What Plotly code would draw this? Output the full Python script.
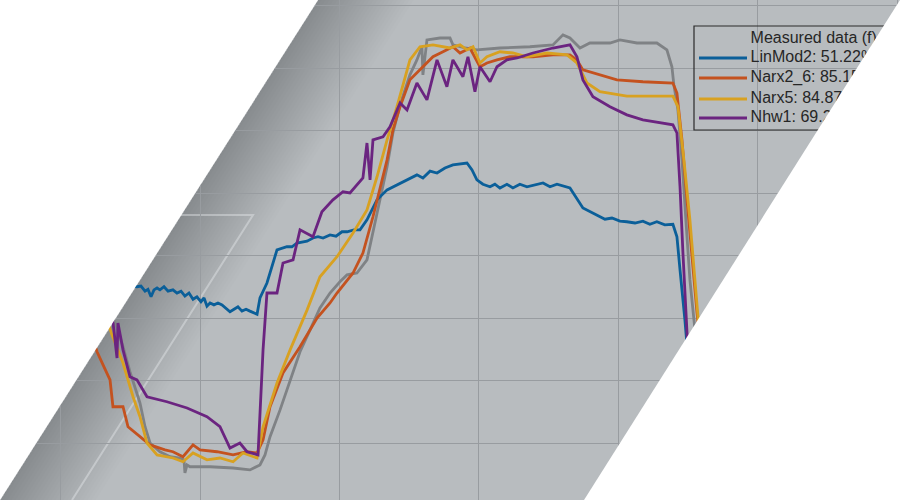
import plotly.graph_objects as go

# ---- data (time in s, output value) ----
meas_t = [3.55, 4.12, 4.48, 4.98, 5.70, 6.06, 6.42, 7.13, 7.85, 8.57, 8.85, 8.92, 9.07, 9.28, 10.72, 12.37, 13.58, 14.30, 14.66, 15.02, 15.74, 16.46, 17.17, 17.89, 18.60, 19.32, 20.03, 20.54, 21.25, 21.97, 22.40, 22.90, 23.41, 23.83, 24.34, 25.05, 25.55, 25.91, 25.98, 26.27, 27.20, 27.92, 28.13, 29.00, 29.85, 31.50, 33.65, 35.30, 36.02, 36.52, 37.24, 37.95, 38.67, 39.39, 40.10, 41.32, 42.75, 43.47, 43.83, 43.97, 44.26, 44.55, 44.83, 45.12, 45.41, 45.84]
meas_y = [2.13, 1.81, 1.54, 1.14, 0.64, 0.26, 0.00, -0.14, -0.22, -0.24, -0.27, -0.48, -0.35, -0.38, -0.38, -0.40, -0.43, -0.35, -0.19, 0.10, 0.53, 1.01, 1.46, 1.81, 2.16, 2.40, 2.58, 2.69, 2.72, 2.93, 3.36, 3.89, 4.42, 4.96, 5.41, 5.89, 6.13, 6.34, 5.89, 6.45, 6.48, 6.48, 6.37, 6.32, 6.29, 6.32, 6.34, 6.37, 6.53, 6.48, 6.32, 6.40, 6.40, 6.40, 6.45, 6.40, 6.40, 6.29, 6.02, 5.73, 5.33, 4.53, 3.57, 2.61, 1.97, 1.01]

lin_t = [4.62, 5.48, 5.77, 6.06, 6.27, 6.49, 6.70, 6.92, 7.13, 7.42, 7.71, 8.06, 8.35, 8.64, 8.92, 9.21, 9.50, 9.78, 10.07, 10.29, 10.50, 10.72, 11.00, 11.29, 11.58, 11.86, 12.15, 12.44, 12.72, 13.01, 13.30, 13.58, 13.87, 14.09, 14.30, 14.80, 15.52, 15.88, 16.23, 16.59, 16.95, 17.67, 18.10, 18.46, 18.82, 19.32, 19.75, 20.18, 20.54, 21.04, 21.47, 21.97, 22.69, 23.41, 24.55, 25.05, 25.55, 25.98, 26.49, 26.99, 27.56, 28.13, 28.64, 29.14, 29.50, 29.85, 30.28, 30.79, 31.14, 31.50, 32.00, 32.43, 32.93, 33.44, 34.59, 35.09, 35.59, 36.02, 36.52, 37.45, 37.95, 38.46, 39.03, 39.53, 40.10, 40.60, 41.18, 41.75, 42.25, 42.75, 43.32, 43.90, 44.19, 44.41, 44.76, 45.12]
lin_y = [2.53, 2.50, 2.51, 2.43, 2.46, 2.34, 2.45, 2.48, 2.45, 2.50, 2.43, 2.45, 2.40, 2.43, 2.35, 2.40, 2.30, 2.34, 2.26, 2.32, 2.19, 2.24, 2.21, 2.24, 2.21, 2.16, 2.10, 2.14, 2.18, 2.11, 2.14, 2.11, 2.08, 2.06, 2.32, 2.56, 3.09, 3.12, 3.14, 3.14, 3.20, 3.23, 3.28, 3.30, 3.28, 3.33, 3.31, 3.38, 3.38, 3.41, 3.41, 3.57, 3.89, 4.05, 4.18, 4.24, 4.29, 4.24, 4.35, 4.32, 4.40, 4.45, 4.46, 4.48, 4.37, 4.21, 4.14, 4.10, 4.14, 4.08, 4.14, 4.08, 4.14, 4.10, 4.16, 4.10, 4.14, 4.11, 4.08, 3.76, 3.70, 3.65, 3.58, 3.60, 3.55, 3.54, 3.52, 3.55, 3.50, 3.54, 3.49, 3.50, 3.30, 2.77, 1.97, 1.01]

narx26_t = [2.11, 2.62, 3.05, 3.55, 3.76, 4.48, 4.84, 5.70, 6.42, 7.49, 8.06, 8.78, 9.50, 10.00, 11.22, 12.37, 13.37, 14.09, 14.52, 15.02, 15.95, 17.17, 18.39, 19.32, 19.82, 20.97, 21.68, 22.40, 22.90, 23.41, 23.83, 24.34, 25.05, 25.77, 26.70, 27.42, 28.13, 28.64, 29.35, 30.07, 30.57, 31.29, 32.22, 33.87, 35.30, 36.52, 37.02, 37.45, 38.17, 39.89, 41.75, 43.90, 44.19, 44.55, 44.91, 45.27, 45.63, 46.05]
narx26_y = [1.81, 1.46, 1.25, 1.01, 0.58, 0.58, 0.26, 0.10, -0.03, -0.11, -0.14, -0.22, -0.03, -0.11, -0.14, -0.19, -0.14, -0.16, 0.05, 0.58, 1.12, 1.54, 2.00, 2.24, 2.40, 2.72, 3.04, 3.62, 4.05, 4.53, 5.01, 5.38, 5.81, 5.97, 6.18, 6.26, 6.34, 6.24, 6.32, 6.02, 6.08, 6.13, 6.18, 6.18, 6.21, 6.21, 6.13, 5.97, 5.92, 5.81, 5.78, 5.76, 5.60, 4.85, 3.89, 2.93, 2.08, 1.17]

narx5_t = [2.83, 3.69, 4.48, 5.20, 5.70, 6.20, 6.92, 8.06, 8.78, 9.50, 10.50, 11.43, 12.37, 13.08, 14.09, 14.52, 15.52, 16.46, 17.68, 18.60, 19.82, 20.97, 21.97, 22.69, 23.41, 24.12, 25.05, 25.77, 26.70, 27.92, 28.64, 29.14, 29.57, 30.07, 30.57, 31.50, 32.43, 33.44, 34.87, 36.31, 37.02, 37.74, 38.67, 40.60, 43.90, 44.26, 44.69, 45.12, 45.70, 46.13]
narx5_y = [2.29, 1.73, 1.28, 0.74, 0.42, 0.00, -0.19, -0.24, -0.30, -0.16, -0.27, -0.24, -0.30, -0.16, -0.24, 0.26, 0.96, 1.49, 2.13, 2.66, 2.98, 3.36, 3.73, 4.26, 4.85, 5.38, 6.13, 6.34, 6.37, 6.32, 6.37, 6.29, 6.34, 6.08, 6.18, 6.26, 6.24, 6.18, 6.24, 6.21, 6.08, 5.76, 5.62, 5.55, 5.55, 5.38, 4.53, 3.57, 2.02, 1.17]

nhw1_t = [3.41, 3.77, 4.05, 4.12, 4.48, 4.98, 5.48, 6.20, 7.63, 9.07, 10.50, 11.43, 12.15, 12.86, 13.37, 14.16, 14.52, 14.80, 15.52, 15.95, 16.67, 17.17, 18.10, 18.74, 19.53, 20.25, 20.75, 21.25, 21.68, 21.97, 22.19, 22.40, 23.12, 23.62, 24.34, 24.84, 25.55, 26.27, 26.99, 27.70, 28.13, 28.85, 29.21, 29.71, 30.07, 30.79, 31.29, 32.00, 32.72, 33.87, 35.30, 36.52, 37.02, 37.45, 38.17, 39.39, 40.60, 41.75, 42.97, 43.90, 44.19, 44.41, 44.62, 44.91, 45.12]
nhw1_y = [2.13, 1.92, 1.36, 1.92, 1.49, 1.06, 1.01, 0.74, 0.66, 0.56, 0.42, 0.26, -0.08, 0.00, -0.14, -0.19, 1.49, 2.40, 2.40, 2.88, 2.93, 3.41, 3.30, 3.70, 3.89, 4.02, 4.00, 4.13, 4.24, 4.80, 4.21, 4.85, 4.90, 5.06, 5.44, 5.33, 5.76, 5.49, 6.13, 5.70, 6.13, 5.86, 6.18, 5.62, 6.02, 5.78, 6.02, 6.13, 6.16, 6.24, 6.32, 6.37, 6.18, 5.81, 5.54, 5.38, 5.25, 5.17, 5.12, 5.09, 4.96, 4.10, 3.04, 1.70, 0.85]

legend_title = "Measured data (f) (y1)"
legend_names = ["LinMod2: 51.22%", "Narx2_6: 85.15%", "Narx5: 84.87%", "Nhw1: 69.23%"]

# ---- style ----
BG = "#b8bcbf"
GRID = "#989ca0"
C_MEAS = "#7f8285"
COLORS = ["#0b5f99", "#c4521f", "#d8a121", "#6b2480"]

fig = go.Figure()

fig.add_trace(go.Scatter(x=meas_t, y=meas_y, mode="lines", name="Measured data (f)",
                         line=dict(color=C_MEAS, width=2.8), showlegend=False))
series = [(lin_t, lin_y), (narx26_t, narx26_y), (narx5_t, narx5_y), (nhw1_t, nhw1_y)]
for (t, y), c, n in zip(series, COLORS, legend_names):
    fig.add_trace(go.Scatter(x=t, y=y, mode="lines", name=n,
                             line=dict(color=c, width=2.8), showlegend=False))

# legend text drawn as real text on an overlay axis in figure fractions
leg_x = 0.834
leg_rows = [0.922, 0.884, 0.844, 0.802, 0.764]
fig.add_trace(go.Scatter(x=[leg_x] * 5, y=leg_rows, mode="text",
                         text=[legend_title] + legend_names, textposition="middle right",
                         textfont=dict(family="Liberation Sans, Arial", size=16, color="#262626"),
                         xaxis="x2", yaxis="y2", showlegend=False, hoverinfo="skip"))

W, H = 900.0, 500.0
def P(px, py):
    return f"{px / W:.4f},{1 - py / H:.4f}"

shapes = []
# darker band along the left slanted edge (soft gradient)
for w in range(4, 100, 4):
    shapes.append(dict(type="path", xref="paper", yref="paper", layer="below", line=dict(width=0),
                       fillcolor="rgba(40,45,50,0.009)",
                       path=f"M {P(318,0)} L {P(318+w,0)} L {P(0+w,500)} L {P(0,500)} Z"))
# faint light outline in lower left
shapes.append(dict(type="path", xref="paper", yref="paper", layer="below",
                   line=dict(color="rgba(235,238,240,0.4)", width=2),
                   path=f"M {P(181,215)} L {P(253,215)} L {P(72,500)}"))
# legend box background (hides gridlines) and border
shapes.append(dict(type="rect", xref="paper", yref="paper", layer="between",
                   x0=694/W, x1=1.05, y0=1-130/H, y1=1-26/H, fillcolor=BG, line=dict(width=0)))
shapes.append(dict(type="rect", xref="paper", yref="paper", layer="above",
                   x0=694/W, x1=1.05, y0=1-130/H, y1=1-26/H, line=dict(color="#2a2a2a", width=1.2)))
for r, c in zip(leg_rows[1:], COLORS):
    shapes.append(dict(type="line", xref="paper", yref="paper", layer="above",
                       x0=699/W, x1=747/W, y0=r, y1=r, line=dict(color=c, width=3)))
# white masks outside the parallelogram
shapes.append(dict(type="path", xref="paper", yref="paper", layer="above", fillcolor="white",
                   line=dict(width=0), path=f"M {P(-5,-5)} L {P(318.5,-5)} L {P(318,0)} L {P(0,500)} L {P(-5,505)} Z"))
shapes.append(dict(type="path", xref="paper", yref="paper", layer="above", fillcolor="white",
                   line=dict(width=0), path=f"M {P(900,0)} L {P(905,-5)} L {P(905,505)} L {P(584,505)} L {P(584,500)} Z"))

fig.update_layout(
    width=900, height=500,
    margin=dict(l=0, r=0, t=0, b=0),
    paper_bgcolor="white", plot_bgcolor=BG,
    shapes=shapes,
    xaxis=dict(range=[-4.337, 60.18], tick0=0, dtick=10, showgrid=True, gridcolor=GRID, gridwidth=1.3,
               zeroline=False, showticklabels=False, ticks=""),
    yaxis=dict(range=[-0.912, 7.088], tick0=0, dtick=1, showgrid=True, gridcolor=GRID, gridwidth=1.3,
               zeroline=False, showticklabels=False, ticks=""),
    xaxis2=dict(range=[0, 1], overlaying="x", visible=False),
    yaxis2=dict(range=[0, 1], overlaying="y", visible=False),
    showlegend=False,
)

fig.write_html("out.html", config={"displayModeBar": False},
               post_script="document.body.style.margin='0px';")
